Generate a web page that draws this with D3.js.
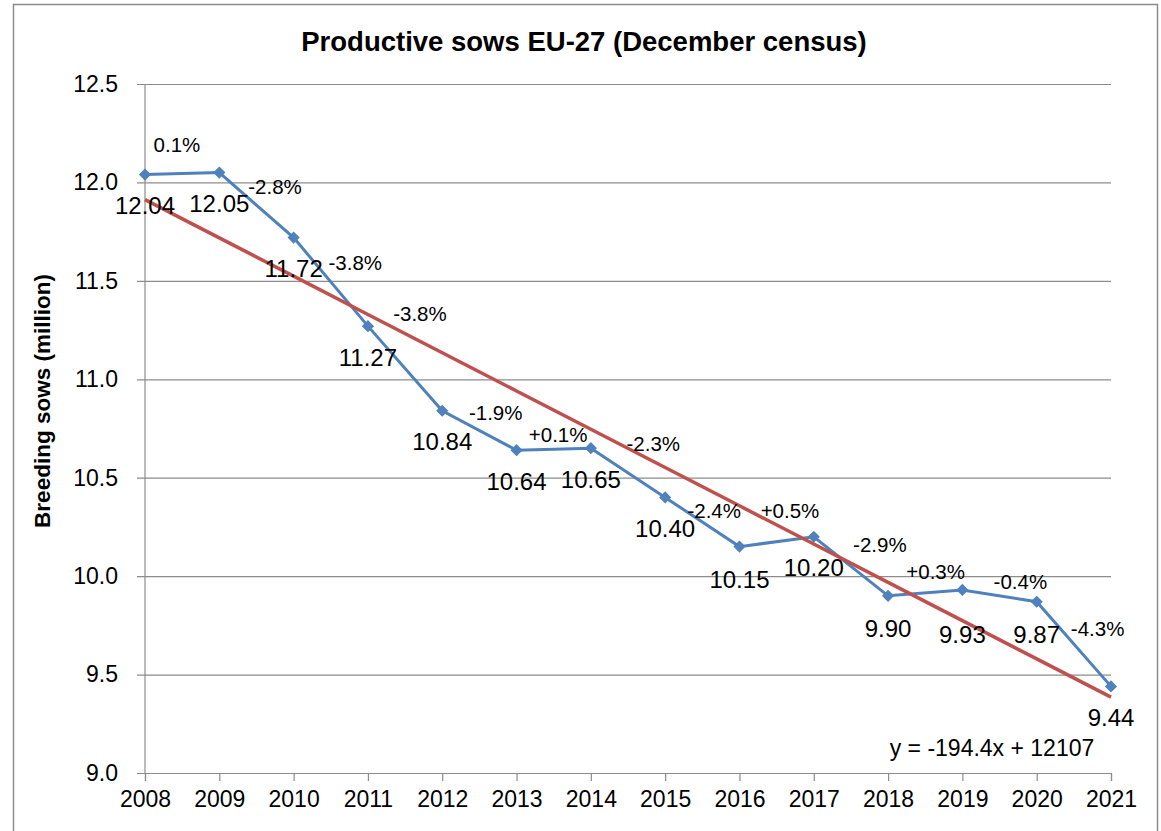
<!DOCTYPE html>
<html>
<head>
<meta charset="utf-8">
<script src="https://cdn.jsdelivr.net/npm/d3@7"></script>
<style>
  body { margin: 0; background: #fff; }
  svg { display: block; font-family: "Liberation Sans", Arial, sans-serif; }
</style>
</head>
<body>
<svg id="chart"></svg>
<script>
// data
const years = [2008, 2009, 2010, 2011, 2012, 2013, 2014, 2015, 2016, 2017, 2018, 2019, 2020, 2021];
const sows = [12.04, 12.05, 11.72, 11.27, 10.84, 10.64, 10.65, 10.40, 10.15, 10.20, 9.90, 9.93, 9.87, 9.44];
const changes = ["0.1%", "-2.8%", "-3.8%", "-3.8%", "-1.9%", "+0.1%", "-2.3%", "-2.4%", "+0.5%", "-2.9%", "+0.3%", "-0.4%", "-4.3%"];
const yTicks = [9.0, 9.5, 10.0, 10.5, 11.0, 11.5, 12.0, 12.5];
// linear trend as printed on the chart (x = 1..14, y in thousands)
const trendSlope = -194.4;
const trendIntercept = 12107;

// where the % labels sit, in [year, value] units
const pctAnchors = [
    [2008.43, 12.19], [2009.75, 11.98], [2010.83, 11.59], [2011.70, 11.33],
    [2012.72, 10.83], [2013.56, 10.72], [2014.84, 10.67], [2015.66, 10.33],
    [2016.68, 10.33], [2017.89, 10.16], [2018.64, 10.02], [2019.78, 9.97],
    [2020.82, 9.73]
];
// extra vertical nudge for value labels (px)
const valueNudge = [0, 0, 0, 0, 0, 0, 0, 0, 2, 0, 2, 14, 2, 0];

const width = 1161;
const height = 831;
const margin = { top: 84, right: 50, bottom: 58, left: 145 };

const blue = "#4F81BD";
const red = "#C0504D";
const grid = "#8c8c8c";

const svg = d3.select("#chart")
    .attr("width", width)
    .attr("height", height);

// outer chart border
svg.append("rect")
    .attr("x", 13.5)
    .attr("y", 4.5)
    .attr("width", 1144)
    .attr("height", 840)
    .attr("fill", "none")
    .attr("stroke", "#8c8c8c")
    .attr("stroke-width", 1.5);

const x = d3.scaleLinear()
    .domain([2008, 2021])
    .range([margin.left, width - margin.right]);

const y = d3.scaleLinear()
    .domain([9, 12.5])
    .range([height - margin.bottom, margin.top]);

// title
svg.append("text")
    .attr("x", 584)
    .attr("y", 51)
    .attr("text-anchor", "middle")
    .attr("font-weight", "bold")
    .attr("font-size", 27.5)
    .text("Productive sows EU-27 (December census)");

// y axis title
svg.append("text")
    .attr("transform", `translate(50, 401) rotate(-90)`)
    .attr("text-anchor", "middle")
    .attr("font-weight", "bold")
    .attr("font-size", 22.5)
    .text("Breeding sows (million)");

// gridlines + y axis
svg.append("g")
    .attr("transform", `translate(${margin.left}, 0)`)
    .call(d3.axisLeft(y)
        .tickValues(yTicks)
        .tickFormat(d3.format(".1f"))
        .tickSize(-(width - margin.left - margin.right))
        .tickPadding(27))
    .call(g => g.select(".domain").remove())
    .call(g => g.selectAll(".tick line")
        .attr("x1", -8)
        .attr("stroke", grid)
        .attr("stroke-width", 1.2))
    .call(g => g.selectAll(".tick text")
        .attr("font-size", 23)
        .attr("font-family", "Liberation Sans, Arial, sans-serif")
        .attr("fill", "#000"));

// y axis line
svg.append("line")
    .attr("x1", x(2008)).attr("x2", x(2008))
    .attr("y1", y(12.5)).attr("y2", y(9))
    .attr("stroke", grid)
    .attr("stroke-width", 1.2);

// x axis
svg.append("g")
    .attr("transform", `translate(0, ${y(9)})`)
    .call(d3.axisBottom(x)
        .tickValues(years)
        .tickFormat(d3.format("d"))
        .tickSize(8)
        .tickPadding(10))
    .call(g => g.select(".domain").attr("stroke", grid).attr("stroke-width", 1.2))
    .call(g => g.selectAll(".tick line").attr("stroke", grid).attr("stroke-width", 1.2))
    .call(g => g.selectAll(".tick text")
        .attr("font-size", 23)
        .attr("font-family", "Liberation Sans, Arial, sans-serif")
        .attr("fill", "#000"));

// sows line
const line = d3.line()
    .x((d, i) => x(years[i]))
    .y(d => y(d));

svg.append("path")
    .datum(sows)
    .attr("d", line)
    .attr("fill", "none")
    .attr("stroke", blue)
    .attr("stroke-width", 3);

// diamond markers
svg.selectAll(".marker")
    .data(sows)
    .enter()
    .append("path")
    .attr("class", "marker")
    .attr("d", d3.symbol(d3.symbolSquare, 74))
    .attr("transform", (d, i) => `translate(${x(years[i])}, ${y(d)}) rotate(45)`)
    .attr("fill", blue);

// trend line
const trend = years.map((yr, i) => (trendSlope * (i + 1) + trendIntercept) / 1000);
svg.append("path")
    .datum(trend)
    .attr("d", line)
    .attr("fill", "none")
    .attr("stroke", red)
    .attr("stroke-width", 3.5);

// value labels
svg.selectAll(".val")
    .data(sows)
    .enter()
    .append("text")
    .attr("class", "val")
    .attr("x", (d, i) => x(years[i]))
    .attr("y", (d, i) => y(d) + 31 + valueNudge[i])
    .attr("dy", "0.35em")
    .attr("text-anchor", "middle")
    .attr("font-size", 24)
    .text(d => d.toFixed(2));

// percent change labels
svg.selectAll(".pct")
    .data(changes)
    .enter()
    .append("text")
    .attr("class", "pct")
    .attr("x", (d, i) => x(pctAnchors[i][0]))
    .attr("y", (d, i) => y(pctAnchors[i][1]))
    .attr("dy", "0.35em")
    .attr("text-anchor", "middle")
    .attr("font-size", 20.5)
    .text(d => d);

// trend equation
svg.append("text")
    .attr("x", 992)
    .attr("y", 748)
    .attr("dy", "0.35em")
    .attr("text-anchor", "middle")
    .attr("font-size", 23)
    .text(`y = ${trendSlope}x + ${trendIntercept}`);
</script>
</body>
</html>
